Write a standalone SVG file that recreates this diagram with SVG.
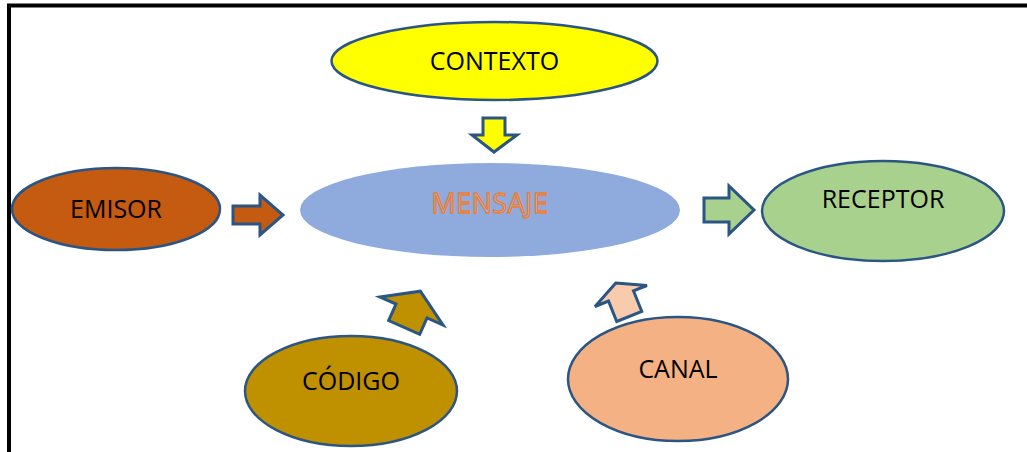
<svg xmlns="http://www.w3.org/2000/svg" width="1027" height="452" viewBox="0 0 1027 452">
<style>
.node ellipse{stroke:#2B5583;stroke-width:2.5}
.lbl{font-family:"Open Sans","Liberation Sans",sans-serif;font-size:25px;fill:#000;text-anchor:middle}
.arr{stroke:#2B5583;stroke-width:3;stroke-linejoin:miter}
</style>
<rect width="1027" height="452" fill="#fff"/>
<g id="frame">
<path d="M9,452 V5.5 H1027" fill="none" stroke="#000" stroke-width="4"/>
</g>
<g id="mensaje" class="node">
<ellipse cx="490" cy="210" rx="190" ry="47" fill="#8FAADC" style="stroke:none"/>
<text x="490" y="212.5" font-family="Open Sans, Liberation Sans, sans-serif" font-size="27" letter-spacing="0.5" text-anchor="middle" fill="#9DB5E0" stroke="#ED7D31" stroke-width="1.3">MENSAJE</text>
</g>
<g id="contexto" class="node">
<ellipse cx="494.5" cy="61" rx="163" ry="39" fill="#FFFF00"/>
<text class="lbl" x="494.5" y="70">CONTEXTO</text>
</g>
<g id="emisor" class="node">
<ellipse cx="116" cy="209" rx="104" ry="41" fill="#C55A11"/>
<text class="lbl" x="116" y="218">EMISOR</text>
</g>
<g id="receptor" class="node">
<ellipse cx="883" cy="211" rx="121" ry="50" fill="#A9D18E"/>
<text class="lbl" x="883" y="208">RECEPTOR</text>
</g>
<g id="codigo" class="node">
<ellipse cx="351" cy="391" rx="106" ry="55" fill="#BF9000"/>
<text class="lbl" x="351" y="390">CÓDIGO</text>
</g>
<g id="canal" class="node">
<ellipse cx="678" cy="379" rx="110" ry="62" fill="#F4B183"/>
<text class="lbl" x="678" y="378">CANAL</text>
</g>
<g id="connectors">
<polygon class="arr" fill="#FFFF00" points="483,118 505,118 505,135 517,135 494,152 472,135 483,135"/>
<polygon class="arr" fill="#C55A11" points="233,206 260,206 260,195 283,215 260,235 260,224 233,224"/>
<polygon class="arr" fill="#A9D18E" points="704,198 729,198 729,186 754,210 729,234 729,222 704,222"/>
<polygon class="arr" fill="#BF9000" transform="translate(411.5,311) rotate(24)" points="0,-21.7 34.5,0 17,0 17,18 -17,18 -17,0 -34.5,0"/>
<polygon class="arr" fill="#F8CBAD" transform="translate(621,296) rotate(-22)" points="0,-14 28,0 13.5,0 13.5,22 -13.5,22 -13.5,0 -28,0"/>
</g>
</svg>
